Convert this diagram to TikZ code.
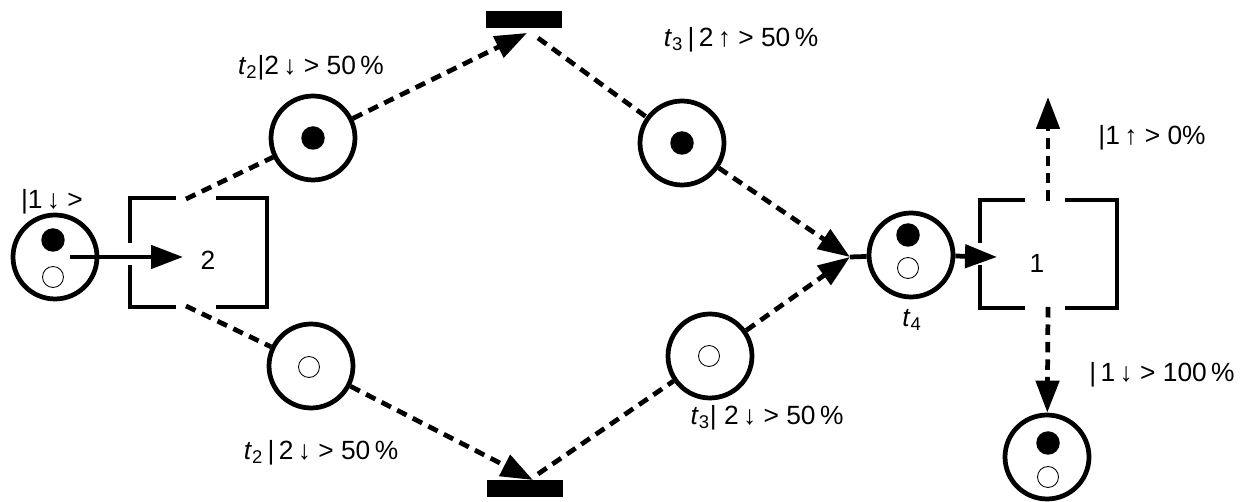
\documentclass[tikz,border=0pt]{standalone}
\usepackage{fontspec}
\setmainfont{Liberation Sans}
\usepackage{tikz}
\usetikzlibrary{arrows.meta, positioning, calc}

\begin{document}
\begin{tikzpicture}[
    x=0.02cm, y=-0.02cm,
    place/.style={
        circle,
        draw,
        line width=2.7pt,
        minimum size=1.68cm,
        inner sep=0pt
    },
    token/.style={
        circle,
        fill=black,
        minimum size=0.47cm,
        inner sep=0pt
    },
    hole/.style={
        circle,
        draw,
        line width=0.5pt,
        minimum size=0.42cm,
        inner sep=0pt
    },
    bar/.style={
        rectangle,
        fill=black,
        minimum width=1.54cm,
        minimum height=0.34cm,
        inner sep=0pt
    },
    frame/.style={line width=2.7pt},
    arrow/.style={-{Triangle[length=0.64cm, width=0.46cm]}, line width=2.7pt},
    flow/.style={line width=2.7pt, dash pattern=on 0.21cm off 0.14cm},
    lbl/.style={font=\fontsize{15}{18}\selectfont, inner sep=0pt}
]
\useasboundingbox (0,0) rectangle (1251,502);

% Input place
\node[place] (p1) at (55,257) {};
\node[token] (p1a) at (53,240) {};
\node[hole] (p1b) at (53,277) {};
\node[lbl] (l1) at (52,202) {|1\,↓ >};

% Box with two slots
\draw[frame] (176,198) -- (130,198) -- (130,243);
\draw[frame] (130,265) -- (130,307) -- (176,307);
\draw[frame] (216,307) -- (267,307) -- (267,198) -- (216,198);
\node[lbl] (n2) at (208,260) {2};
\coordinate (b1in) at (183,257);
\coordinate (b1t) at (186,199);
\coordinate (b1b) at (186,306);
\draw[arrow] ($(p1.center)+(15,0)$) -- (b1in);

% Upper branch
\node[place] (p2) at (313,138) {};
\node[token] (p2a) at (313,138) {};
\node[lbl] (l2) at (311,68) {\textit{t}\textsubscript{2}|2\,↓ > 50\,\%};
\node[bar] (bar1) at (524,20) {};
\coordinate (bar1in) at (527,33);
\coordinate (bar1out) at (538,38);
\draw[flow] (b1t) -- (p2);
\draw[flow, arrow] (p2) -- (bar1in);
\node[place] (p3) at (682,143) {};
\node[token] (p3a) at (682,143) {};
\node[lbl] (l3) at (741,40) {\textit{t}\textsubscript{3}\,|\,2\,↑ > 50\,\%};
\coordinate (join) at (850,257);
\draw[flow] (bar1out) -- (p3);
\draw[flow, arrow] (p3) -- (join);

% Lower branch
\node[place] (p4) at (311,366) {};
\node[hole] (p4a) at (309,367) {};
\node[lbl] (l4) at (321,453) {\textit{t}\textsubscript{2}\,|\,2\,↓ > 50\,\%};
\node[bar] (bar2) at (525,489) {};
\coordinate (bar2in) at (533,480);
\coordinate (bar2out) at (538,474);
\draw[flow] (b1b) -- (p4);
\draw[flow, arrow] (p4) -- (bar2in);
\node[place] (p5) at (710,356) {};
\node[hole] (p5a) at (709,356) {};
\node[lbl] (l5) at (767,418) {\textit{t}\textsubscript{3}| 2\,↓ > 50\,\%};
\draw[flow] (bar2out) -- (p5);
\draw[flow, arrow] (p5) -- (join);

% Merge place
\node[place] (t4) at (911,255) {};
\node[token] (t4a) at (908,235) {};
\node[hole] (t4b) at (908,268) {};
\node[lbl] (l6) at (912,320) {\textit{t}\textsubscript{4}};
\draw[frame] (join) -- (t4);

% Output box
\draw[frame] (1025,200) -- (980,200) -- (980,243);
\draw[frame] (980,265) -- (980,308) -- (1025,308);
\draw[frame] (1065,308) -- (1117,308) -- (1117,200) -- (1065,200);
\node[lbl] (n1) at (1037,263) {1};
\coordinate (b2in) at (997,257);
\coordinate (b2t) at (1048,201);
\coordinate (b2b) at (1048,307);
\coordinate (up) at (1048,97);
\draw[arrow] (t4) -- (b2in);

% Measurement outcomes
\node[lbl] (l7) at (1152,138) {|1\,↑ > 0\%};
\draw[flow, arrow] (b2t) -- (up);
\node[lbl] (l8) at (1162,375) {|\,1\,↓ > 100\,\%};
\node[place] (p6) at (1047,457) {};
\node[token] (p6a) at (1048,443) {};
\node[hole] (p6b) at (1048,477) {};
\draw[flow, arrow] (b2b) -- (p6);

\end{tikzpicture}
\end{document}
